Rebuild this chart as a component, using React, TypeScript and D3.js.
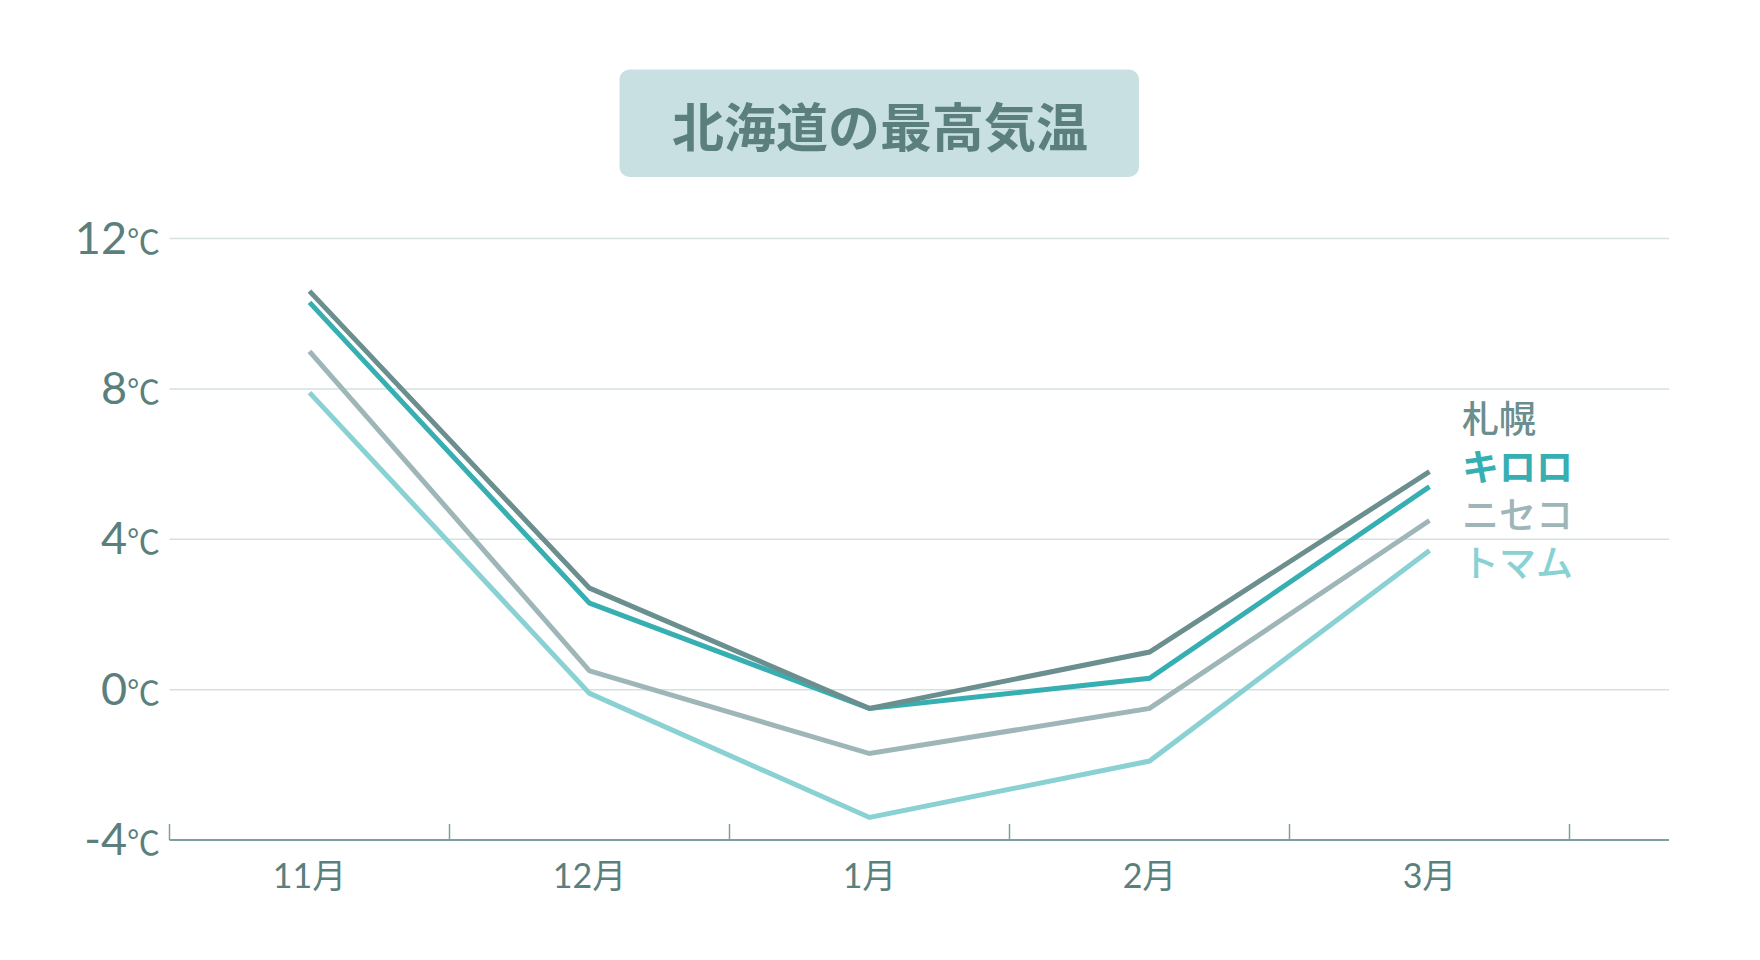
import React from "react";
import * as d3 from "d3";

const months = ["11月", "12月", "1月", "2月", "3月"];
const yTicks = [-4, 0, 4, 8, 12];
const seriesNames = ["札幌", "キロロ", "ニセコ", "トマム"];
const sapporo = [10.6, 2.7, -0.5, 1.0, 5.8];
const kiroro = [10.3, 2.3, -0.5, 0.3, 5.4];
const niseko = [9.0, 0.5, -1.7, -0.5, 4.5];
const tomamu = [7.9, -0.1, -3.4, -1.9, 3.7];
const seriesValues = [sapporo, kiroro, niseko, tomamu];
const seriesColors = ["#6b8e8e", "#37afb2", "#9eb6b7", "#89d1d3"];
const legendWeights = [500, 700, 500, 500];
const title = "北海道の最高気温";

const W = 1760;
const H = 960;
const left = 169.5;
const bandRight = 1569.5;
const right = 1669;
const textColor = "#5a7f7d";
const latin = "Lato, 'Noto Sans CJK JP', sans-serif";
const cjk = "'Noto Sans CJK JP', sans-serif";

export default function App() {
  const x = d3.scaleBand<string>().domain(months).range([left, bandRight]).padding(0);
  const y = d3.scaleLinear().domain([-4, 12]).range([840, 238.5]);
  const cx = (m: string) => (x(m) as number) + x.bandwidth() / 2;
  const line = d3
    .line<number>()
    .x((_, i) => cx(months[i]))
    .y((d) => y(d));
  const boundaries = months.map((m) => x(m) as number).concat([bandRight]);

  return (
    <div style={{ position: "absolute", left: 0, top: 0 }}>
      <svg width={W} height={H} style={{ display: "block", background: "#fff" }}>
        {/* title */}
        <rect x={619.5} y={69.5} width={519.5} height={107.5} rx={10} fill="#c8e0e2" />
        <text
          x={880}
          y={124}
          textAnchor="middle"
          dominantBaseline="central"
          fontFamily={cjk}
          fontWeight={700}
          fontSize={52}
          fill={textColor}
        >
          {title}
        </text>

        {/* gridlines */}
        {yTicks
          .filter((t) => t !== -4)
          .map((t) => (
            <line key={t} x1={left} x2={right} y1={y(t)} y2={y(t)} stroke="#d5e0e1" strokeWidth={1.5} />
          ))}

        {/* y labels */}
        {yTicks.map((t) => (
          <text key={t} x={160} y={y(t) + 15} textAnchor="end" fill={textColor}>
            <tspan fontFamily={latin} fontSize={45}>
              {t}
            </tspan>
            <tspan fontFamily={cjk} fontSize={33}>
              ℃
            </tspan>
          </text>
        ))}

        {/* x axis */}
        <line x1={left} x2={right} y1={y(-4)} y2={y(-4)} stroke="#7f9e9e" strokeWidth={2} />
        {boundaries.map((b, i) => (
          <line key={i} x1={b} x2={b} y1={y(-4)} y2={y(-4) - 16} stroke="#7f9e9e" strokeWidth={1.5} />
        ))}
        {months.map((m) => (
          <text key={m} x={cx(m)} y={888} textAnchor="middle" fontFamily={latin} fontSize={34} fill={textColor}>
            {m}
          </text>
        ))}

        {/* lines, drawn from back to front */}
        {seriesValues
          .map((vals, i) => ({ vals, i }))
          .reverse()
          .map(({ vals, i }) => (
            <path
              key={seriesNames[i]}
              d={line(vals) as string}
              fill="none"
              stroke={seriesColors[i]}
              strokeWidth={5}
              strokeLinejoin="miter"
            />
          ))}

        {/* legend */}
        {seriesNames.map((n, i) => (
          <text
            key={n}
            x={1462}
            y={417 + i * 48}
            dominantBaseline="central"
            fontFamily={cjk}
            fontWeight={legendWeights[i]}
            fontSize={37}
            fill={seriesColors[i]}
          >
            {n}
          </text>
        ))}
      </svg>
    </div>
  );
}
